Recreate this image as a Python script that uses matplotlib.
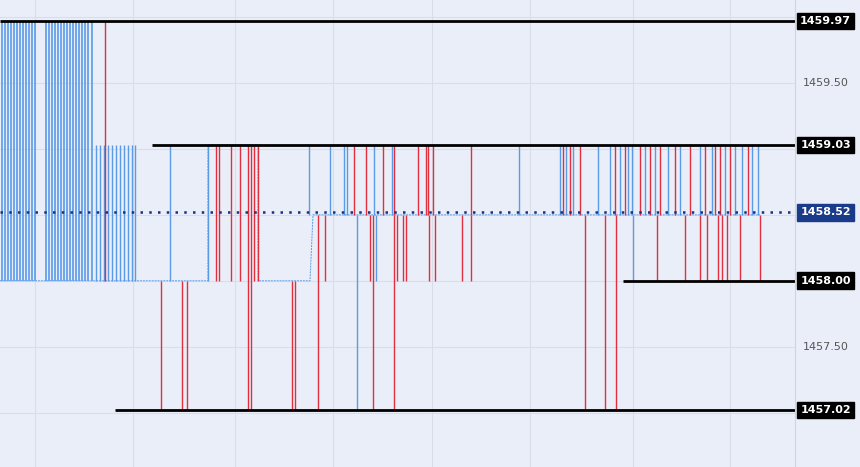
import matplotlib
matplotlib.use("Agg")
import matplotlib.pyplot as plt

HI, MID_TOP, LAST, LOW_LVL, BOT = 1459.97, 1459.03, 1458.52, 1458.00, 1457.02

# tick index, start price, end price (vertical moves)
up_hi_x = [2, 5, 8, 11, 14, 17, 20, 23, 26, 29, 32, 35,
           46, 49, 52, 55, 58, 61, 64, 67, 70, 73, 76, 79, 82, 85, 88, 92]
up_mid_x = [96, 100, 104, 108, 112, 116, 120, 124, 128, 132, 135, 170, 208]
red_down_from_mid_to_low = [216, 219, 231, 240, 254, 258]
red_down_from_mid_to_bot = [248, 251]
red_base_to_bot = [161, 182, 187, 292, 295]
red_up_x = [105]
# region around last price
mid_up_blue = [309, 330, 344, 347, 374, 392, 519, 560, 566, 573, 598, 610, 620, 628, 632, 645,
               655, 668, 680, 700, 712, 725, 735, 742, 752, 758]
mid_up_red = [354, 366, 383, 394, 418, 426, 428, 433, 471, 563, 570, 580, 615, 625, 640, 650,
              660, 675, 690, 705, 715, 720, 730, 748]
mid_down_low_red = [325, 370, 397, 403, 406, 429, 435, 462, 471, 657, 685, 700, 707, 718, 722,
                    727, 740, 760]
mid_down_low_blue = [376, 633]
mid_down_bot_red = [318, 373, 394, 585, 605, 616]
mid_down_bot_blue = [357]

levels = [HI, MID_TOP, LOW_LVL, BOT]
level_start = [0, 152, 623, 115]
label_vals = ["1459.97", "1459.03", "1458.52", "1458.00", "1457.02"]

BLUE, RED = "#5b9be6", "#e0303f"
fig = plt.figure(figsize=(8.6, 4.67), dpi=100)
fig.patch.set_facecolor("#eaeef8")
ax = fig.add_axes([0, 0, 795/860, 1])
ax.set_facecolor("#eaeef8")
ax.set_xlim(0, 795)
ax.set_ylim(1456.588, 1460.129)
for gx in [35, 133, 235, 333, 432, 530, 633, 730]:
    ax.axvline(gx, color="#d8dde8", lw=0.8, zorder=0)
for gy in [1457.0, 1457.5, 1458.0, 1458.5, 1459.0, 1459.5, 1460.0]:
    ax.axhline(gy, color="#d8dde8", lw=0.8, zorder=0)

# base step path
ax.plot([0, 135, 208, 208, 258, 258, 310, 313, 760],
        [LOW_LVL, LOW_LVL, LOW_LVL, MID_TOP, MID_TOP, LOW_LVL, LOW_LVL, 1458.5, 1458.5],
        color=BLUE, lw=0.7, ls=(0, (2, 1)), zorder=1)
ax.vlines(up_hi_x, LOW_LVL, HI, color=BLUE, lw=1.2)
ax.vlines(up_mid_x, LOW_LVL, MID_TOP, color=BLUE, lw=1.0)
ax.vlines(red_up_x, LOW_LVL, HI, color=RED, lw=1.0)
ax.vlines(red_down_from_mid_to_low, LOW_LVL, MID_TOP, color=RED, lw=1.0)
ax.vlines(red_down_from_mid_to_bot, BOT, MID_TOP, color=RED, lw=1.0)
ax.vlines(red_base_to_bot, BOT, LOW_LVL, color=RED, lw=1.0)
ax.vlines(mid_up_blue, 1458.5, MID_TOP, color=BLUE, lw=1.0)
ax.vlines(mid_up_red, 1458.5, MID_TOP, color=RED, lw=1.0)
ax.vlines(mid_down_low_red, LOW_LVL, 1458.5, color=RED, lw=1.0)
ax.vlines(mid_down_low_blue, LOW_LVL, 1458.5, color=BLUE, lw=1.0)
ax.vlines(mid_down_bot_red, BOT, 1458.5, color=RED, lw=1.0)
ax.vlines(mid_down_bot_blue, BOT, 1458.5, color=BLUE, lw=1.0)

for lv, xs in zip(levels, level_start):
    ax.hlines(lv, xs, 795, color="black", lw=2, zorder=5)
ax.axhline(LAST, color="#1a2f80", lw=1.8, ls=(0, (1, 2.5)), zorder=5)
ax.set_xticks([]); ax.set_yticks([])
for s in ax.spines.values():
    s.set_visible(False)

# right price scale
rx = 795/860
fig.add_artist(plt.Line2D([rx, rx], [0, 1], color="#d0d4dc", lw=0.8))
def yf(v):
    return (v - 1456.588) / (1460.129 - 1456.588)
for v in [1459.5, 1457.5]:
    fig.text(0.96, yf(v), f"{v:.2f}", ha="center", va="center", fontsize=8, color="#555555")
for v, s in zip([HI, MID_TOP, LAST, LOW_LVL, BOT], label_vals):
    fc = "#1a3a8a" if s == "1458.52" else "black"
    fig.text(0.96, yf(v), s, ha="center", va="center", fontsize=8, fontweight="bold",
             color="white", bbox=dict(boxstyle="square,pad=0.3", fc=fc, ec=fc))
fig.savefig("out.png", dpi=100, facecolor=fig.get_facecolor())
